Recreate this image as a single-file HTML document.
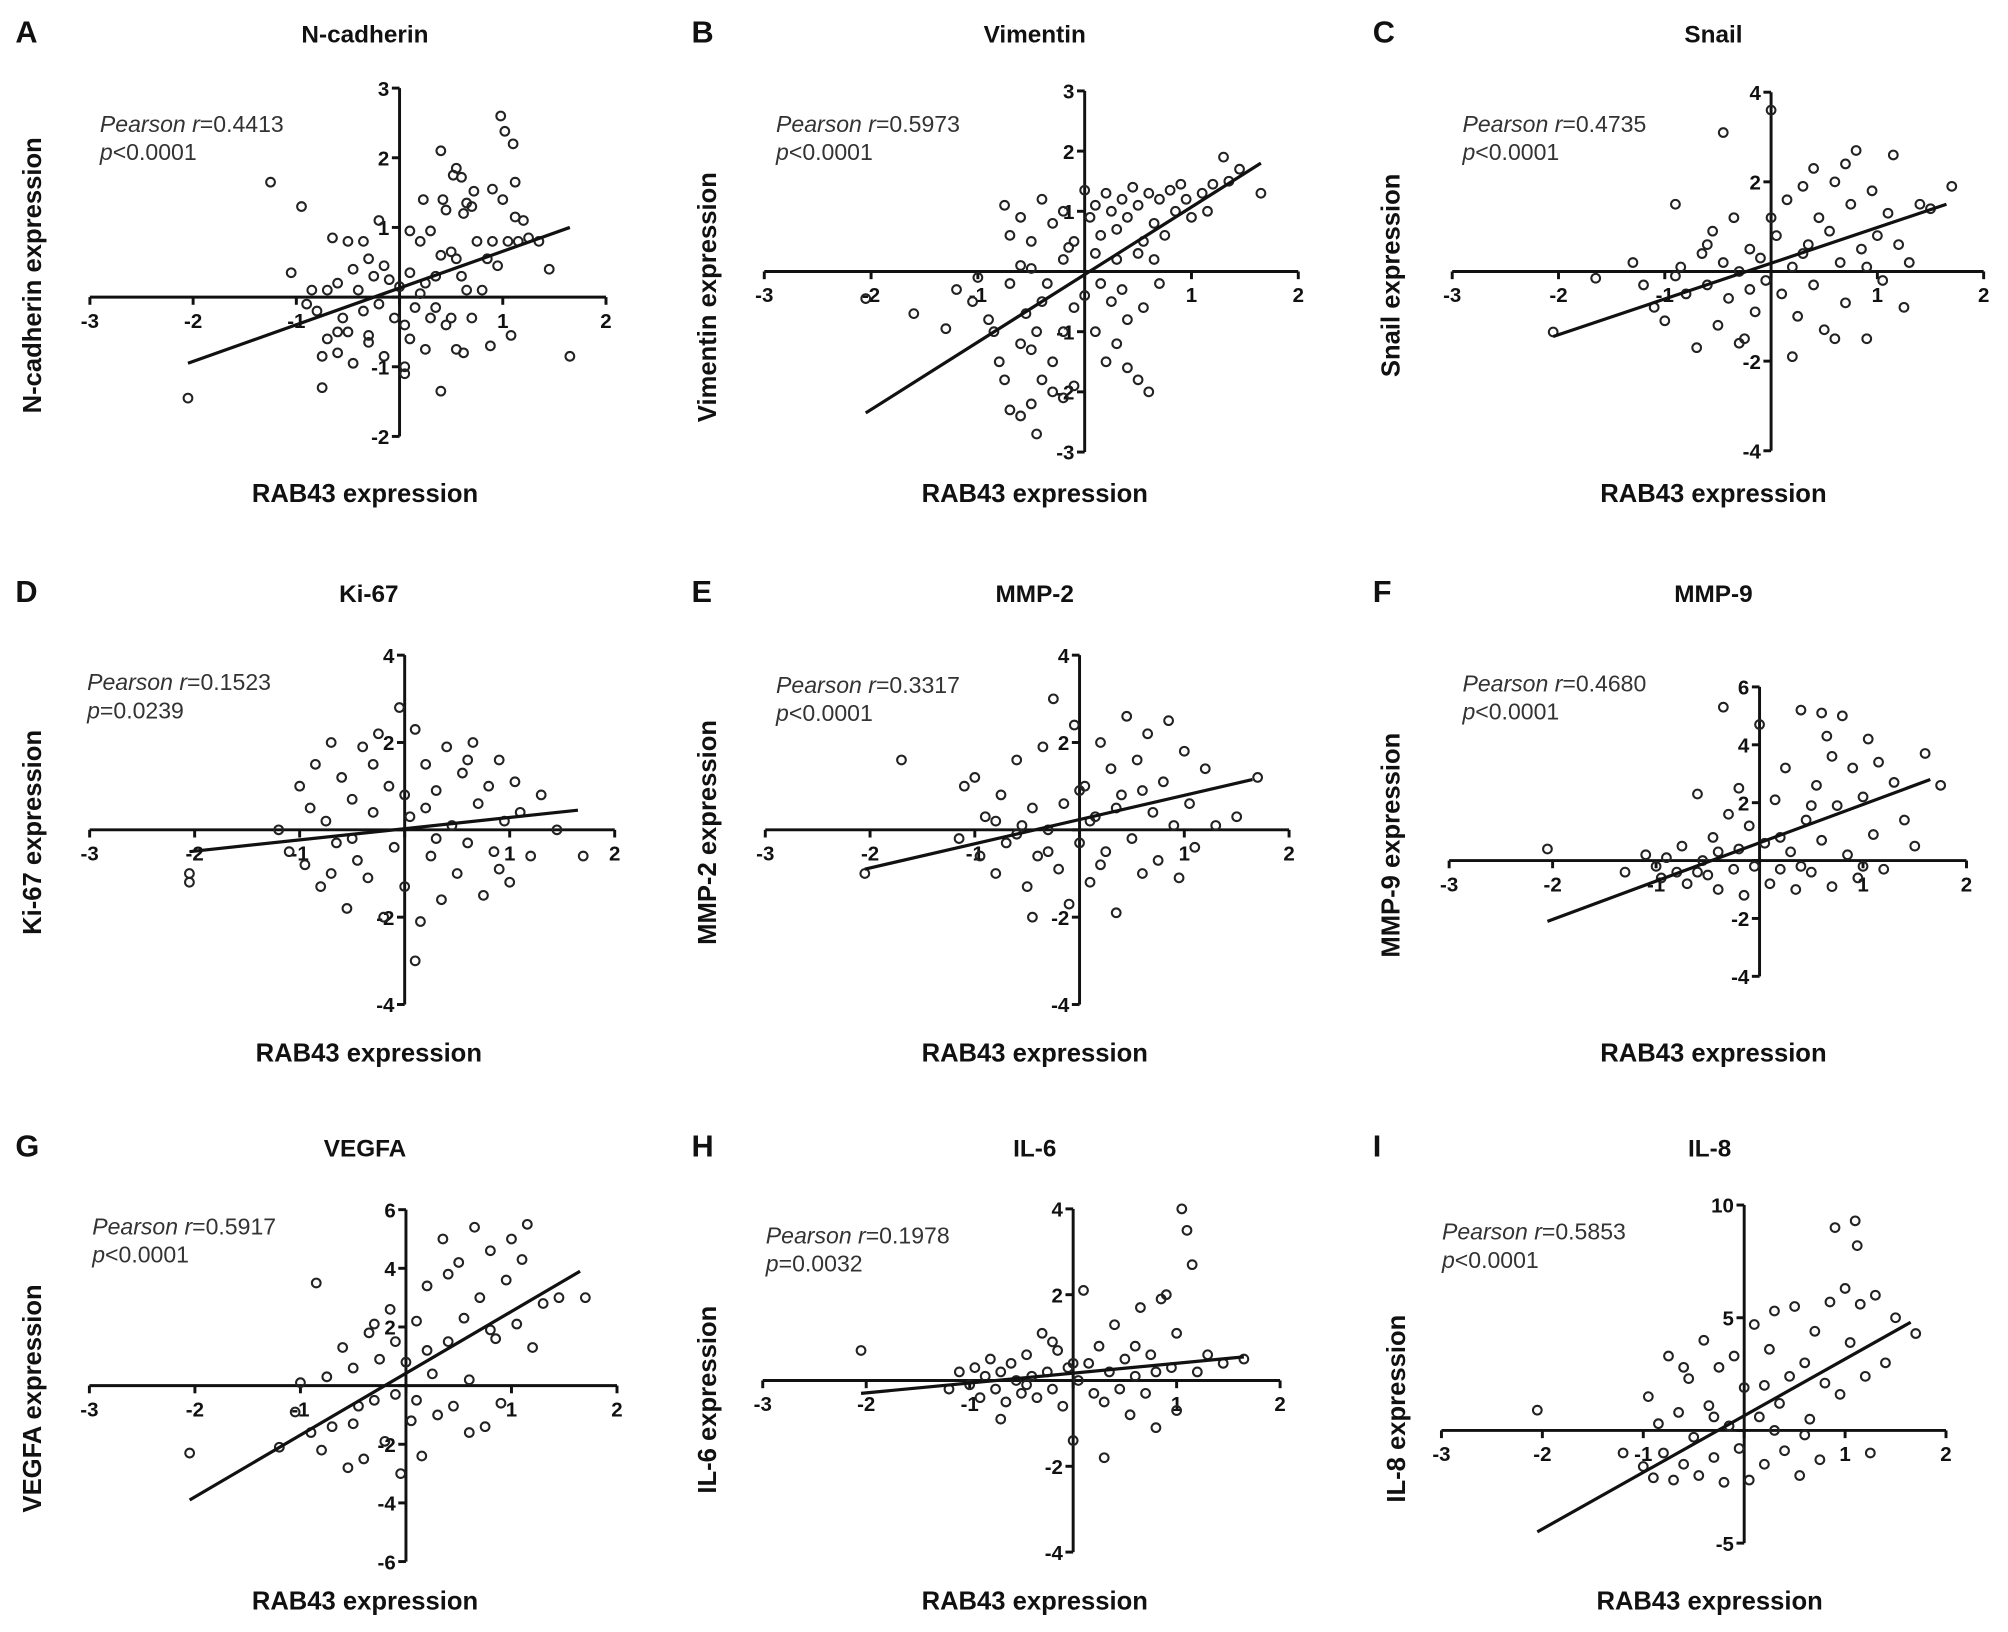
<!DOCTYPE html>
<html><head><meta charset="utf-8"><style>
html,body{margin:0;padding:0;background:#fff}
svg{display:block}
text{font-family:"Liberation Sans",Arial,sans-serif}
</style></head><body>
<svg id="fig" width="2008" height="1632" viewBox="0 0 1568 1274.4" xmlns="http://www.w3.org/2000/svg"></svg>
<script>
const panelLetters=["A","B","C","D","E","F","G","H","I"];
const panelTitles=["N-cadherin","Vimentin","Snail","Ki-67","MMP-2","MMP-9","VEGFA","IL-6","IL-8"];
const yLabels=["N-cadherin expression","Vimentin expression","Snail expression","Ki-67 expression","MMP-2 expression","MMP-9 expression","VEGFA expression","IL-6 expression","IL-8 expression"];
const rValues=["0.4413","0.5973","0.4735","0.1523","0.3317","0.4680","0.5917","0.1978","0.5853"];
const pValues=["<0.0001","<0.0001","<0.0001","=0.0239","<0.0001","<0.0001","<0.0001","=0.0032","<0.0001"];
const xTicks=[-3,-2,-1,0,1,2];
const yTicksA=[-2,-1,0,1,2,3];
const yTicksB=[-3,-2,-1,0,1,2,3];
const yTicks4=[-4,-2,0,2,4];
const yTicksF=[-4,-2,0,2,4,6];
const yTicksG=[-6,-4,-2,0,2,4,6];
const yTicksI=[-5,0,5,10];
const fitA=[[-2.05,-0.95],[1.65,1.0]];
const fitB=[[-2.05,-2.35],[1.65,1.8]];
const fitC=[[-2.05,-1.45],[1.65,1.5]];
const fitD=[[-2.05,-0.5],[1.65,0.45]];
const fitE=[[-2.05,-0.9],[1.65,1.15]];
const fitF=[[-2.05,-2.1],[1.65,2.8]];
const fitG=[[-2.05,-3.9],[1.65,3.9]];
const fitH=[[-2.05,-0.3],[1.65,0.55]];
const fitI=[[-2.05,-4.5],[1.65,4.8]];
const ptsA=[[-2.05,-1.45],[-1.25,1.65],[-0.95,1.3],[-0.2,1.1],[0.4,2.1],[0.98,2.6],[1.02,2.38],[1.1,2.2],[1.12,1.65],[0.55,1.85],[0.52,1.75],[0.6,1.72],[0.72,1.52],[0.9,1.55],[1.0,1.4],[0.23,1.4],[0.42,1.4],[0.45,1.25],[0.65,1.35],[0.7,1.3],[0.62,1.2],[1.12,1.15],[1.2,1.1],[1.45,0.4],[1.65,-0.85],[0.4,-1.35],[-0.75,-1.3],[-0.75,-0.85],[-0.6,-0.8],[-0.5,-0.5],[-0.3,-0.65],[-0.15,-0.85],[0.05,-1.0],[0.05,-1.1],[0.25,-0.75],[0.55,-0.75],[0.62,-0.8],[0.88,-0.7],[1.08,-0.55],[-1.05,0.35],[-0.85,0.1],[-0.9,-0.1],[-0.8,-0.2],[-0.7,0.1],[-0.6,0.2],[-0.55,-0.3],[-0.45,0.4],[-0.4,0.1],[-0.35,-0.2],[-0.3,0.55],[-0.25,0.3],[-0.2,-0.1],[-0.1,0.25],[-0.05,-0.3],[0,0.15],[0.05,-0.4],[0.1,0.35],[0.15,-0.15],[0.2,0.05],[0.25,0.2],[0.3,-0.3],[0.35,0.3],[0.4,0.6],[0.45,-0.4],[0.5,0.65],[0.55,0.55],[0.6,0.3],[0.65,0.1],[0.7,-0.3],[0.75,0.8],[0.8,0.1],[0.85,0.55],[0.9,0.8],[0.95,0.45],[1.05,0.8],[1.15,0.8],[1.25,0.85],[1.35,0.8],[-0.5,0.8],[-0.35,0.8],[-0.65,0.85],[0.1,0.95],[0.2,0.8],[0.3,0.95],[-0.3,-0.55],[-0.6,-0.5],[0.5,-0.3],[-0.15,0.45],[0.1,-0.6],[-0.45,-0.95],[0.35,-0.15],[-0.7,-0.6]];
const ptsB=[[-2.05,-0.45],[-1.6,-0.7],[-1.3,-0.95],[-1.2,-0.3],[-1.0,-0.1],[-1.05,-0.5],[-0.9,-0.8],[-0.85,-1.0],[-0.8,-1.5],[-0.75,-1.8],[-0.7,-2.3],[-0.6,-2.4],[-0.5,-2.2],[-0.45,-2.7],[-0.5,-1.3],[-0.6,-1.2],[-0.4,-1.8],[-0.3,-2.0],[-0.2,-2.1],[-0.1,-1.9],[-0.3,-1.5],[-0.2,-1.0],[-0.1,-0.6],[-0.4,-0.5],[-0.7,-0.2],[-0.6,0.1],[-0.5,0.05],[-0.35,-0.2],[-0.2,0.2],[0,-0.4],[0.1,-1.0],[0.2,-1.5],[0.3,-1.2],[0.4,-1.6],[0.5,-1.8],[0.6,-2.0],[0.4,-0.8],[0.55,-0.6],[0.7,-0.2],[0.25,-0.5],[-0.75,1.1],[-0.7,0.6],[-0.6,0.9],[-0.5,0.5],[-0.4,1.2],[-0.3,0.8],[-0.2,1.0],[-0.15,0.4],[0,1.35],[0.05,0.9],[0.1,1.1],[0.15,0.6],[0.2,1.3],[0.25,1.0],[0.3,0.7],[0.35,1.2],[0.4,0.9],[0.45,1.4],[0.5,1.1],[0.55,0.5],[0.6,1.3],[0.65,0.8],[0.7,1.2],[0.75,0.6],[0.8,1.35],[0.85,1.0],[0.9,1.45],[0.95,1.2],[1.0,0.9],[1.1,1.3],[1.15,1.0],[1.2,1.45],[1.3,1.9],[1.45,1.7],[1.65,1.3],[1.35,1.5],[-0.1,0.5],[0.1,0.3],[0.3,0.2],[0.5,0.3],[0.65,0.2],[-0.45,-1.0],[0.35,-0.3],[0.15,-0.2],[-0.55,-0.7]];
const ptsC=[[-2.05,-1.35],[-1.65,-0.15],[-1.3,0.2],[-1.2,-0.3],[-1.1,-0.8],[-1.0,-1.1],[-0.9,1.5],[-0.85,0.1],[-0.8,-0.5],[-0.7,-1.7],[-0.65,0.4],[-0.6,-0.3],[-0.55,0.9],[-0.5,-1.2],[-0.45,0.2],[-0.4,-0.6],[-0.35,1.2],[-0.3,0.0],[-0.25,-1.5],[-0.2,0.5],[-0.15,-0.9],[-0.1,0.3],[-0.05,-0.2],[0,3.6],[-0.45,3.1],[0.05,0.8],[0.1,-0.5],[0.15,1.6],[0.2,0.1],[0.25,-1.0],[0.3,1.9],[0.35,0.6],[0.4,-0.3],[0.45,1.2],[0.5,-1.3],[0.55,0.9],[0.6,2.0],[0.65,0.2],[0.7,-0.7],[0.75,1.5],[0.8,2.7],[0.85,0.5],[0.9,-1.5],[0.95,1.8],[1.0,0.8],[1.05,-0.2],[1.1,1.3],[1.15,2.6],[1.2,0.6],[1.25,-0.8],[1.4,1.5],[1.5,1.4],[1.7,1.9],[1.3,0.2],[0.2,-1.9],[-0.3,-1.6],[0.6,-1.5],[0.0,1.2],[-0.6,0.6],[0.4,2.3],[0.7,2.4],[-0.9,-0.1],[-0.2,-0.4],[0.3,0.4],[0.9,0.1]];
const ptsD=[[-2.05,-1.2],[-2.05,-1.0],[-1.2,0.0],[-1.1,-0.5],[-1.0,1.0],[-0.95,-0.8],[-0.9,0.5],[-0.85,1.5],[-0.8,-1.3],[-0.75,0.2],[-0.7,2.0],[-0.65,-0.3],[-0.6,1.2],[-0.55,-1.8],[-0.5,0.7],[-0.45,-0.7],[-0.4,1.9],[-0.35,-1.1],[-0.3,0.4],[-0.25,2.2],[-0.2,-2.0],[-0.15,1.0],[-0.1,-0.4],[-0.05,2.8],[0,-1.3],[0.05,0.3],[0.1,2.3],[0.15,-2.1],[0.1,-3.0],[0.2,1.5],[0.25,-0.6],[0.3,0.9],[0.35,-1.6],[0.4,1.9],[0.45,0.1],[0.5,-1.0],[0.55,1.3],[0.6,-0.3],[0.65,2.0],[0.7,0.6],[0.75,-1.5],[0.8,1.0],[0.85,-0.5],[0.9,1.6],[0.95,0.2],[1.0,-1.2],[1.05,1.1],[1.1,0.4],[1.2,-0.6],[1.3,0.8],[1.45,0.0],[1.7,-0.6],[0.0,0.8],[-0.5,-0.2],[0.3,-0.2],[-0.7,-1.0],[0.6,1.6],[-0.3,1.5],[0.9,-0.9],[0.2,0.5]];
const ptsE=[[-2.05,-1.0],[-1.7,1.6],[-1.15,-0.2],[-1.1,1.0],[-1.0,1.2],[-0.95,-0.6],[-0.9,0.3],[-0.8,-1.0],[-0.75,0.8],[-0.7,-0.3],[-0.6,1.6],[-0.55,0.1],[-0.5,-1.3],[-0.45,0.5],[-0.4,-0.6],[-0.35,1.9],[-0.3,0.0],[-0.25,3.0],[-0.2,-0.9],[-0.15,0.6],[-0.1,-1.7],[-0.05,2.4],[0,-0.3],[0.05,1.0],[0.1,-1.2],[0.15,0.3],[0.2,2.0],[0.25,-0.5],[0.3,1.4],[0.35,-1.9],[0.4,0.8],[0.45,2.6],[0.5,-0.2],[0.55,1.6],[0.6,-1.0],[0.65,2.2],[0.7,0.4],[0.75,-0.7],[0.8,1.1],[0.85,2.5],[0.9,0.1],[0.95,-1.1],[1.0,1.8],[1.05,0.6],[1.1,-0.4],[1.2,1.4],[1.3,0.1],[1.5,0.3],[1.7,1.2],[-0.6,-0.1],[0.1,0.2],[-0.3,-0.5],[0.35,0.5],[-0.8,0.2],[0.6,0.9],[0.2,-0.8],[-0.45,-2.0],[0.0,0.9]];
const ptsF=[[-2.05,0.4],[-1.3,-0.4],[-1.1,0.2],[-1.0,-0.2],[-0.95,-0.6],[-0.9,0.1],[-0.8,-0.4],[-0.75,0.5],[-0.7,-0.8],[-0.6,2.3],[-0.55,0.0],[-0.5,-0.5],[-0.45,0.8],[-0.4,-1.0],[-0.35,5.3],[-0.3,1.6],[-0.25,-0.3],[-0.2,0.4],[-0.15,-1.2],[-0.1,1.2],[-0.05,-0.2],[0,4.7],[0.05,0.6],[0.1,-0.8],[0.15,2.1],[0.2,-0.3],[0.25,3.2],[0.3,0.3],[0.35,-1.0],[0.4,5.2],[0.45,1.4],[0.5,-0.4],[0.55,2.6],[0.6,0.7],[0.65,4.3],[0.7,-0.9],[0.75,1.9],[0.8,5.0],[0.85,0.2],[0.9,3.2],[0.95,-0.6],[1.0,2.2],[1.05,4.2],[1.1,0.9],[1.15,3.4],[1.2,-0.3],[1.3,2.7],[1.4,1.4],[1.5,0.5],[1.6,3.7],[1.75,2.6],[0.6,5.1],[0.2,0.8],[-0.6,-0.4],[0.4,-0.2],[-0.2,2.5],[0.7,3.6],[1.0,-0.2],[0.5,1.9],[-0.4,0.3]];
const ptsG=[[-2.05,-2.3],[-1.2,-2.1],[-1.05,-0.9],[-1.0,0.1],[-0.9,-1.6],[-0.85,3.5],[-0.8,-2.2],[-0.75,0.3],[-0.7,-1.4],[-0.6,1.3],[-0.55,-2.8],[-0.5,0.6],[-0.45,-0.7],[-0.4,-2.5],[-0.35,1.8],[-0.3,-0.5],[-0.25,0.9],[-0.2,-1.9],[-0.15,2.6],[-0.1,-0.3],[-0.05,-3.0],[0,0.8],[0.05,-1.2],[0.1,2.2],[0.15,-2.4],[0.2,3.4],[0.25,0.4],[0.3,-1.0],[0.35,5.0],[0.4,1.5],[0.45,-0.7],[0.5,4.2],[0.55,2.3],[0.6,0.2],[0.65,5.4],[0.7,3.0],[0.75,-1.4],[0.8,4.6],[0.85,1.6],[0.9,-0.6],[0.95,3.6],[1.0,5.0],[1.05,2.1],[1.1,4.3],[1.15,5.5],[1.2,1.3],[1.3,2.8],[1.45,3.0],[1.7,3.0],[0.4,3.8],[-0.3,2.1],[0.6,-1.6],[0.2,1.2],[-0.5,-1.3],[0.1,-0.5],[0.8,1.9],[-0.1,1.5]];
const ptsH=[[-2.05,0.7],[-1.2,-0.2],[-1.1,0.2],[-1.0,-0.1],[-0.95,0.3],[-0.9,-0.4],[-0.85,0.1],[-0.8,0.5],[-0.75,-0.2],[-0.7,0.2],[-0.65,-0.5],[-0.6,0.4],[-0.55,0.0],[-0.5,-0.3],[-0.45,0.6],[-0.4,0.1],[-0.35,-0.4],[-0.3,1.1],[-0.25,0.2],[-0.2,-0.2],[-0.15,0.7],[-0.1,-0.6],[-0.05,0.3],[0,-1.4],[0.05,0.0],[0.1,2.1],[0.15,0.4],[0.2,-0.3],[0.25,0.8],[0.3,-0.5],[0.35,0.2],[0.4,1.3],[0.45,-0.2],[0.5,0.5],[0.55,-0.8],[0.6,0.1],[0.65,1.7],[0.7,-0.3],[0.75,0.6],[0.8,-1.1],[0.85,1.9],[0.9,2.0],[0.95,0.3],[1.0,-0.7],[1.05,4.0],[1.1,3.5],[1.15,2.7],[1.0,1.1],[1.2,0.2],[1.3,0.6],[1.45,0.4],[1.65,0.5],[-0.7,-0.9],[0.3,-1.8],[-0.2,0.9],[0.6,0.8],[0.0,0.4],[-0.45,-0.1],[0.8,0.2]];
const ptsI=[[-2.05,0.9],[-1.2,-1.0],[-1.0,-1.6],[-0.95,1.5],[-0.9,-2.1],[-0.85,0.3],[-0.8,-1.0],[-0.75,3.3],[-0.7,-2.2],[-0.65,0.8],[-0.6,-1.5],[-0.55,2.3],[-0.5,-0.3],[-0.45,-2.0],[-0.4,4.0],[-0.35,1.1],[-0.3,-1.2],[-0.25,2.8],[-0.2,-2.3],[-0.15,0.2],[-0.1,3.3],[-0.05,-0.8],[0,1.9],[0.05,-2.2],[0.1,4.7],[0.15,0.6],[0.2,-1.5],[0.25,3.6],[0.3,5.3],[0.35,1.2],[0.4,-0.9],[0.45,2.4],[0.5,5.5],[0.55,-2.0],[0.6,3.0],[0.65,0.5],[0.7,4.4],[0.75,-1.3],[0.8,2.1],[0.85,5.7],[0.9,9.0],[0.95,1.6],[1.0,6.3],[1.05,3.9],[1.1,9.3],[1.15,5.6],[1.2,2.4],[1.3,6.0],[1.4,3.0],[1.5,5.0],[1.7,4.3],[1.25,-1.0],[1.12,8.2],[0.3,0.0],[-0.3,0.6],[0.6,-0.2],[-0.6,2.8],[0.2,2.0]];

const layout=[
 {x0:312,xu:80.6,y0:232,yu:54.4,yt:yTicksA,pts:ptsA,fit:fitA,tx:285,ty:33,lx:12,px:78,py:103,ylx:25,yly:215,xly:392},
 {x0:847,xu:83.4,y0:212,yu:47,yt:yTicksB,pts:ptsB,fit:fitB,tx:808,ty:33,lx:540,px:606,py:103,ylx:552,yly:232,xly:392},
 {x0:1383,xu:83,y0:212,yu:35,yt:yTicks4,pts:ptsC,fit:fitC,tx:1338,ty:33,lx:1072,px:1142,py:103,ylx:1086,yly:215,xly:392},
 {x0:316,xu:82,y0:648,yu:34.1,yt:yTicks4,pts:ptsD,fit:fitD,tx:288,ty:470,lx:12,px:68,py:539,ylx:25,yly:650,xly:829},
 {x0:843,xu:81.8,y0:648,yu:34.1,yt:yTicks4,pts:ptsE,fit:fitE,tx:808,ty:470,lx:540,px:606,py:541,ylx:552,yly:650,xly:829},
 {x0:1374,xu:80.8,y0:672,yu:22.6,yt:yTicksF,pts:ptsF,fit:fitF,tx:1338,ty:470,lx:1072,px:1142,py:540,ylx:1086,yly:660,xly:829},
 {x0:317,xu:82.4,y0:1082,yu:22.9,yt:yTicksG,pts:ptsG,fit:fitG,tx:285,ty:903,lx:12,px:72,py:964,ylx:25,yly:1092,xly:1257},
 {x0:838,xu:80.8,y0:1078,yu:33.5,yt:yTicks4,pts:ptsH,fit:fitH,tx:808,ty:903,lx:540,px:598,py:971,ylx:552,yly:1093,xly:1257},
 {x0:1362,xu:78.8,y0:1117,yu:17.6,yt:yTicksI,pts:ptsI,fit:fitI,tx:1335,ty:903,lx:1072,px:1126,py:968,ylx:1090,yly:1100,xly:1257}
];
const NS="http://www.w3.org/2000/svg";
const svg=document.getElementById('fig');
function mk(tag,attrs,parent){const e=document.createElementNS(NS,tag);for(const k in attrs)e.setAttribute(k,attrs[k]);parent.appendChild(e);return e;}
layout.forEach((L,i)=>{
 const g=mk('g',{},svg);
 
 
 const sx=v=>L.x0+v*L.xu, sy=v=>L.y0-v*L.yu;
 let t=mk('text',{x:L.lx,y:L.ty,'font-size':24,'font-weight':'bold',fill:'#111'},g);t.textContent=panelLetters[i];
 
 
 t=mk('text',{x:L.tx,y:L.ty,'font-size':19,'text-anchor':'middle',fill:'#111','font-weight':'bold'},g);t.textContent=panelTitles[i];
 
 
 const xa=mk('line',{x1:sx(-3),x2:sx(2),y1:L.y0,y2:L.y0,stroke:'#111','stroke-width':2.3},g);
 
 
 const ymin=L.yt[0],ymax=L.yt[L.yt.length-1];
 const ya=mk('line',{x1:L.x0,x2:L.x0,y1:sy(ymin),y2:sy(ymax),stroke:'#111','stroke-width':2.3},g);
 
 
 xTicks.forEach(v=>{
  mk('line',{x1:sx(v),x2:sx(v),y1:L.y0,y2:L.y0+6,stroke:'#111','stroke-width':2.3},g);
  if(v!==0){const tl=mk('text',{x:sx(v),y:L.y0+24,'font-size':16,'font-weight':'bold','text-anchor':'middle',fill:'#111'},g);tl.textContent=v;
   
   }
 });
 L.yt.forEach(v=>{
  mk('line',{x1:L.x0-6,x2:L.x0,y1:sy(v),y2:sy(v),stroke:'#111','stroke-width':2.3},g);
  if(v!==0){const tl=mk('text',{x:L.x0-8,y:sy(v)+6,'font-size':16,'font-weight':'bold','text-anchor':'end',fill:'#111'},g);tl.textContent=v;
   
   }
 });
 L.pts.forEach(p=>{
  const c=mk('circle',{cx:sx(p[0]),cy:sy(p[1]),r:3.4,fill:'none',stroke:'#222','stroke-width':1.6},g);
  
  
 });
 const fl=mk('line',{x1:sx(L.fit[0][0]),y1:sy(L.fit[0][1]),x2:sx(L.fit[1][0]),y2:sy(L.fit[1][1]),stroke:'#111','stroke-width':2.5},g);
 
 
 t=mk('text',{x:L.px,y:L.py,'font-size':18,fill:'#333'},g);
 t.innerHTML='<tspan font-style="italic">Pearson r</tspan>='+rValues[i];
 
 
 t=mk('text',{x:L.px,y:L.py+22,'font-size':18,fill:'#333'},g);
 t.innerHTML='<tspan font-style="italic">p</tspan>'+pValues[i].replace('<','&lt;');
 
 
 t=mk('text',{x:L.tx,y:L.xly,'font-size':20,'text-anchor':'middle',fill:'#111','font-weight':'bold'},g);t.textContent='RAB43 expression';
 
 
 t=mk('text',{x:0,y:0,'font-size':20,'text-anchor':'middle',fill:'#111','font-weight':'bold',transform:`translate(${L.ylx+7},${L.yly}) rotate(-90)`},g);t.textContent=yLabels[i];
 
 
});
</script>
</body></html>
